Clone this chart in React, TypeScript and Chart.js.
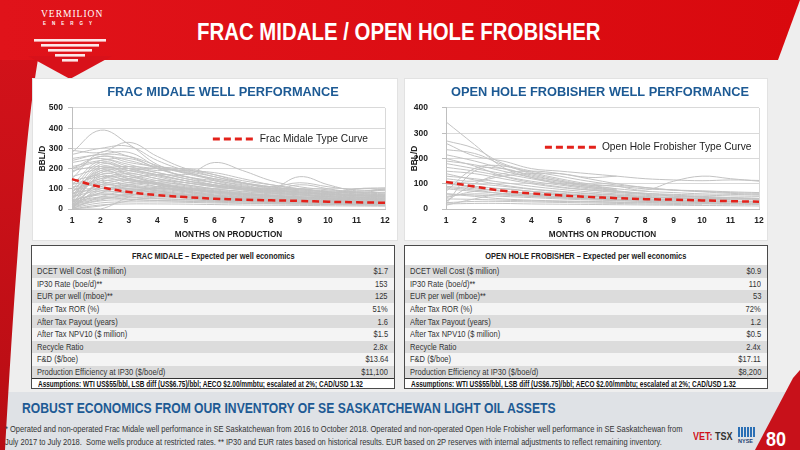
import { useEffect, useRef } from 'react'
import type { ReactNode } from 'react'
import { Chart, registerables } from 'chart.js'

Chart.register(...registerables)

// no Arial Narrow in the sandbox: Liberation Sans, squeezed where the slide is condensed
const SANS = '"Liberation Sans", Arial, sans-serif'

const MONTHS = ['1', '2', '3', '4', '5', '6', '7', '8', '9', '10', '11', '12']

// type curves (bbl/d by month on production)
const MIDALE_TYPE_CURVE = [148, 109, 84, 69, 59, 51, 46, 43, 40, 36, 33, 31]
const FROBISHER_TYPE_CURVE = [107, 89, 72, 62, 54, 48, 43, 39, 37, 34, 31, 29]

// individual well traces, estimated by eye - null = no production data yet
const MIDALE_WELLS: (number | null)[][] = [
  [280, 390, 320, 220, 180, 150, 130, 110, 95, 85, 80, 75],
  [290, 280, 330, 260, 200, 170, 140, 120, 100, 90, 85, 80],
  [270, 300, 310, 240, 190, 160, 130, 110, 95, 85, 80, 95],
  [250, 270, 280, 210, 170, 230, 190, 140, 110, 95, 85, 80],
  [200, 260, 240, 200, 160, 140, 120, 100, 160, 120, 90, 100],
  [230, 250, 220, 190, 200, 170, 130, 100, 85, 75, 70, 65],
  [150, 280, 260, 200, 160, 130, 110, 95, 80, 70, 65, 60],
  [120, 240, 210, 180, 150, 130, 100, 90, 120, 100, 80, 70],
  [100, 230, 200, 170, 140, 120, 100, 85, 75, 65, 60, 55],
  [80, 220, 190, 160, 130, 110, 95, 80, 70, 60, 55, 50],
  [60, 200, 180, 150, 120, 100, 85, 75, 65, 60, 55, 50],
  [40, 190, 170, 140, 115, 95, 80, 70, 60, 55, 50, 45],
  [20, 180, 160, 130, 110, 90, 75, 65, 58, 52, 48, 44],
  [10, 170, 150, 125, 105, 85, 70, 60, 55, 50, 45, 40],
  [30, 160, 140, 120, 100, 80, 68, 60, 52, 48, 44, 40],
  [50, 150, 130, 110, 95, 80, 65, 55, 50, 45, 42, 38],
  [70, 140, 120, 105, 90, 75, 62, 54, 48, 44, 40, 36],
  [90, 130, 115, 100, 85, 70, 60, 52, 46, 42, 38, 35],
  [110, 120, 110, 95, 80, 68, 58, 50, 45, 40, 37, 34],
  [130, 110, 100, 90, 75, 65, 55, 48, 43, 39, 36, 33],
  [5, 100, 95, 85, 72, 62, 52, 46, 41, 37, 34, 31],
  [15, 90, 88, 80, 68, 58, 50, 44, 40, 36, 33, 30],
  [25, 80, 80, 75, 65, 55, 48, 42, 38, 34, 31, 28],
  [45, 70, 72, 70, 60, 52, 45, 40, 36, 32, 30, 27],
  [35, 60, 65, 60, 55, 48, 42, 38, 34, 30, 28, 25],
  [20, 50, 55, 50, 48, 44, 40, 35, 32, 28, 26, 24],
  [10, 40, 45, 42, 40, 38, 35, 32, 30, 27, 25, 22],
  [5, 30, 35, 35, 33, 30, 28, 26, 24, 22, 20, 18],
  [0, 20, 25, 25, 24, 22, 20, 19, 18, 16, 15, 14],
  [160, 200, 210, 200, 190, 180, 150, 120, 100, 85, 75, 70],
  [180, 260, 230, 210, 195, 160, 130, 110, 130, 110, 95, 90],
  [210, 240, 250, 205, 180, 150, 125, 105, 90, 80, 100, 105],
  [140, 170, 190, 200, 185, 140, 110, 95, 85, 75, 70, 65],
  [60, 120, 150, 170, 160, 130, 105, 90, 80, 70, 65, 60],
  [30, 110, 130, 140, 130, 110, 95, 85, 100, 80, 60, 50],
  [80, 100, 120, 130, 120, 100, 88, 78, 70, 62, 56, 50],
  [0, 60, 90, 100, 95, 85, 75, 68, 60, 55, 50, 45],
  [100, 180, 200, 180, 150, 120, 100, 85, 75, 65, 100, 95],
  [190, 210, 190, 170, 140, 115, 95, 80, 70, 62, 58, 55],
  [240, 270, 260, 215, 175, 145, 115, 100, 90, 80, 72, 68],
  [50, 210, 170, 130, 100, null, null, null, null, null, null, null],
  [0, 140, 160, 120, 90, 70, null, null, null, null, null, null],
  [20, 120, 100, 80, 65, 55, 48, 42, null, null, null, null],
  [10, 80, 110, 90, 70, 60, 50, 45, 40, 35, null, null],
  [60, 90, 75, 65, 58, 50, 44, 38, 34, 30, 28, 25],
  [40, 75, 60, 52, 46, 40, 36, 32, 28, 26, 24, 22],
  [25, 55, 48, 42, 38, 34, 30, 27, 25, 23, 21, 19],
  [15, 45, 70, 65, 55, 45, 40, 36, 33, 30, 27, 25],
  [0, 15, 40, 60, 58, 50, 45, 40, 35, 32, 30, 28],
  [5, 130, 140, 110, 85, 65, 55, 48, 43, 39, 36, 33],
  [70, 190, 150, 120, 100, 85, 72, 62, 55, 50, 46, 42],
  [120, 160, 145, 125, 105, 90, 78, 68, 60, 54, 50, 46],
  [90, 150, 175, 150, 130, 115, 100, 90, 80, 72, 66, 60],
  [200, 230, 200, 165, 140, 120, 105, 92, 82, 74, 68, 62],
  [0, 0, 60, 110, 100, 85, 75, 65, 58, 52, 48, 44],
]

const FROBISHER_WELLS: (number | null)[][] = [
  [345, 255, 165, 125, 100, 85, 72, 62, 55, 50, 45, 42],
  [270, 240, 180, 150, 130, 110, 95, 85, 75, 68, 62, 58],
  [260, 210, 190, 160, 150, 140, 130, 120, 115, 112, 115, 113],
  [235, 220, 175, 145, 120, 100, 90, 80, 75, 72, 68, 65],
  [215, 190, 160, 135, 110, 95, 90, 75, 110, 130, 120, 110],
  [190, 175, 150, 125, 105, 90, 80, 70, 65, 60, 58, 55],
  [180, 160, 140, 120, 100, 85, 75, null, null, null, null, null],
  [165, 150, 130, 110, 95, 80, 70, 62, 58, 55, 52, 50],
  [150, 140, 120, 100, 85, 75, 65, 58, 52, 48, 45, 42],
  [130, 120, 105, 90, 78, 68, 60, 54, 50, 46, 43, 40],
  [110, 100, 90, 78, 68, 60, 54, 48, 44, 40, 37, 35],
  [100, 90, 80, 70, 62, 55, 50, 45, 42, 38, 35, null],
  [90, 80, 70, 62, 56, 50, 45, 40, 37, 34, 31, 29],
  [80, 70, 62, 55, 50, 45, 40, 36, 33, 30, 28, 26],
  [60, 55, 50, 45, 40, 36, 33, 30, 28, 26, 24, 22],
  [40, 38, 35, 32, 30, 28, 26, 24, 22, 20, 19, 18],
  [20, 22, 22, 20, 19, 18, 17, 16, 15, 14, 13, 12],
  [20, 150, 160, 130, 110, 90, 75, null, null, null, null, null],
  [30, 100, 140, 150, 140, 120, 100, 85, 75, 70, 65, 62],
  [70, 160, 170, 140, 115, 95, 80, null, null, null, null, null],
  [120, 110, 130, 140, 140, 125, 130, null, null, null, null, null],
  [50, 60, 55, 50, 45, 40, 35, 30, 28, 25, 22, 20],
  [25, 30, 30, 28, 26, 24, 22, 20, 18, 16, null, null],
  [100, 85, 70, 60, 55, 50, 48, 46, 44, 42, 40, 38],
  [140, 115, 95, 80, 70, 62, 56, 50, 45, 42, 40, null],
  [200, 170, 130, 105, 88, 76, 68, 60, null, null, null, null],
  [85, 75, 60, 50, 44, 40, 38, null, null, null, null, null],
  [60, 50, 40, 35, 32, 30, 28, 26, 24, 22, 20, null],
  [45, 70, 80, 70, 60, 52, 46, 40, 36, 32, 30, 28],
  [15, 40, 60, 55, 48, 42, 38, 34, 30, 28, null, null],
]

const ECONOMICS_LABELS = [
  'DCET Well Cost ($ million)',
  'IP30 Rate (boe/d)**',
  'EUR per well (mboe)**',
  'After Tax ROR (%)',
  'After Tax Payout (years)',
  'After Tax NPV10 ($ million)',
  'Recycle Ratio',
  'F&D ($/boe)',
  'Production Efficiency at IP30 ($/boe/d)',
]
const MIDALE_ECONOMICS = ['$1.7', '153', '125', '51%', '1.6', '$1.5', '2.8x', '$13.64', '$11,100']
const FROBISHER_ECONOMICS = ['$0.9', '110', '53', '72%', '1.2', '$0.5', '2.4x', '$17.11', '$8,200']
const ASSUMPTIONS = 'Assumptions: WTI US$55/bbl, LSB diff (US$6.75)/bbl; AECO $2.00/mmbtu; escalated at 2%; CAD/USD 1.32'

const GRID = '#d9d9d9'
const AXIS = '#bfbfbf'

// horizontally squeezed text, stands in for the slide's narrow font
function Narrow({ s, origin = 'left', children }: { s: number; origin?: string; children: ReactNode }) {
  return (
    <span style={{ display: 'inline-block', transform: `scaleX(${s})`, transformOrigin: origin, whiteSpace: 'nowrap' }}>
      {children}
    </span>
  )
}

// draws the single "type curve" legend entry inside the plot area
const typeCurveLegend = {
  id: 'typeCurveLegend',
  afterDatasetsDraw(chart: any, _args: any, opts: any) {
    const { ctx, chartArea: a } = chart
    const ds = chart.data.datasets[0]
    const x = a.left + a.width * opts.x
    const y = a.top + a.height * opts.y
    ctx.save()
    ctx.strokeStyle = ds.borderColor
    ctx.lineWidth = 3
    ctx.setLineDash([7, 4])
    ctx.beginPath()
    ctx.moveTo(x, y)
    ctx.lineTo(x + opts.len, y)
    ctx.stroke()
    ctx.setLineDash([])
    ctx.fillStyle = '#222'
    ctx.font = `10.2px ${SANS}`
    ctx.textBaseline = 'middle'
    ctx.fillText(ds.label, x + opts.len + 5, y)
    ctx.restore()
  },
}

type WellChartProps = {
  title: string
  wells: (number | null)[][]
  typeCurve: number[]
  typeLabel: string
  yMax: number
  left: number
  width: number
  yWidth: number
  rightWidth: number
  tickPad: number
  legend: { x: number; y: number; len: number }
}

function WellChart(p: WellChartProps) {
  const canvasRef = useRef<HTMLCanvasElement>(null)

  useEffect(() => {
    if (!canvasRef.current) return
    const tickFont = { family: SANS, size: 8.5, weight: 'bold' as const }
    const chart = new Chart(canvasRef.current, {
      type: 'line',
      data: {
        labels: MONTHS,
        datasets: [
          {
            label: p.typeLabel,
            data: p.typeCurve,
            borderColor: '#e3221b',
            borderWidth: 2.5,
            borderDash: [7, 4],
            pointRadius: 0,
            tension: 0.4,
          },
          ...p.wells.map((w, i) => ({
            label: `Well ${i + 1}`,
            data: w,
            borderColor: '#c3c3c3',
            borderWidth: 1,
            pointRadius: 0,
            tension: 0.4,
          })),
        ],
      },
      options: {
        animation: false,
        responsive: true,
        maintainAspectRatio: false,
        plugins: {
          legend: { display: false },
          tooltip: { enabled: false },
          title: {
            display: true,
            text: p.title,
            color: '#1d5a94',
            font: { family: SANS, size: 12.8, weight: 'bold' },
            padding: { top: 2.5, bottom: 8.1 },
          },
          // @ts-ignore custom plugin options
          typeCurveLegend: p.legend,
        },
        scales: {
          x: {
            offset: false,
            grid: { color: (c: any) => (c.index === 11 ? GRID : 'transparent'), drawTicks: false },
            border: { color: AXIS },
            ticks: { color: '#222', font: tickFont, padding: 7, maxRotation: 0 },
            title: {
              display: true,
              text: 'MONTHS ON PRODUCTION',
              color: '#222',
              font: { family: SANS, size: 8.2, weight: 'bold' },
              padding: { top: 0, bottom: 0 },
            },
            afterFit: (s: any) => { s.height = 31 },
          },
          y: {
            min: 0,
            max: p.yMax,
            ticks: { stepSize: 100, color: '#222', font: tickFont, padding: p.tickPad },
            grid: { color: GRID, tickLength: 4, tickColor: AXIS },
            border: { color: AXIS },
            title: {
              display: true,
              text: 'BBL/D',
              color: '#222',
              font: { family: SANS, size: 8.3, weight: 'bold' },
              padding: { top: 6, bottom: 0 },
            },
            afterFit: (s: any) => { s.width = p.yWidth },
          },
          // empty spacer on the right so the title centres like the slide
          spacer: {
            type: 'linear',
            position: 'right',
            grid: { display: false },
            border: { display: false },
            ticks: { display: false },
            afterFit: (s: any) => { s.width = p.rightWidth },
          },
        },
      },
      plugins: [typeCurveLegend],
    })
    return () => chart.destroy()
  }, [])

  return (
    <div style={{ position: 'absolute', left: p.left, top: 82, width: p.width, height: 158 }}>
      <canvas ref={canvasRef} />
    </div>
  )
}

function EconomicsTable({ left, title, values }: { left: number; title: string; values: string[] }) {
  return (
    <div
      style={{
        position: 'absolute', left, top: 245, width: 364, height: 144, boxSizing: 'border-box',
        border: '1px solid #4a4a4a', background: '#fff', fontFamily: SANS, color: '#333',
      }}
    >
      <div style={{ height: 19, lineHeight: '19px', textAlign: 'center', fontWeight: 'bold', fontSize: 9.5, color: '#222' }}>
        <Narrow s={0.78} origin="center">{title}</Narrow>
      </div>
      {ECONOMICS_LABELS.map((label, i) => (
        <div
          key={label}
          style={{
            height: 12.6, display: 'flex', justifyContent: 'space-between', alignItems: 'center',
            padding: '0 6px 0 5px', background: i % 2 === 0 ? '#dcdcdc' : '#f4f4f4', fontSize: 9.3,
          }}
        >
          <Narrow s={0.81}>{label}</Narrow>
          <Narrow s={0.81} origin="right">{values[i]}</Narrow>
        </div>
      ))}
      <div
        style={{
          borderTop: '1px solid #333', height: 10, lineHeight: '10px', paddingLeft: 6,
          fontWeight: 'bold', fontSize: 8.3, color: '#111', overflow: 'hidden',
        }}
      >
        <Narrow s={0.78}>{ASSUMPTIONS}</Narrow>
      </div>
    </div>
  )
}

function Decorations() {
  return (
    <svg width={800} height={450} style={{ position: 'absolute', left: 0, top: 0 }}>
      <defs>
        <linearGradient id="band" x1="0" y1="0" x2="1" y2="0">
          <stop offset="0" stopColor="#e0131a" />
          <stop offset="1" stopColor="#d9090e" />
        </linearGradient>
        <linearGradient id="strip" x1="0" y1="0" x2="0" y2="1">
          <stop offset="0" stopColor="#d3121a" />
          <stop offset="1" stopColor="#b80d14" />
        </linearGradient>
      </defs>
      <rect x={0} y={392} width={800} height={58} fill="#dfe2e6" />
      <path d="M0,40 L42,40 C30,90 18,220 5,450 L0,450 Z" fill="url(#strip)" />
      <path d="M0,0 H800 L778,60 H0 Z" fill="url(#band)" />
      <path d="M28,56 L70,79 L112,56 Z" fill="#d8111a" />
      {[0, 1, 2, 3, 4].map(i => (
        <rect key={i} x={34 + i * 7} y={39 + i * 5} width={72 - i * 14} height={2.6} fill="#fff" opacity={0.9} />
      ))}
      <path d="M800,370 L800,450 L755,450 L793,378 Z" fill="#c8111a" />
    </svg>
  )
}

export default function App() {
  return (
    <div
      style={{
        position: 'fixed', left: 0, top: 0, width: 800, height: 450, overflow: 'hidden',
        background: '#eeeeee', fontFamily: SANS,
      }}
    >
      <Decorations />
      <div style={{ position: 'absolute', left: 41, top: 9, color: '#fff', fontSize: 9.5, letterSpacing: 1, fontFamily: '"Liberation Serif", serif' }}>
        VERMILION
      </div>
      <div style={{ position: 'absolute', left: 43, top: 21, color: '#fff', fontSize: 4.5, letterSpacing: 6, fontWeight: 'bold' }}>
        ENERGY
      </div>
      <div style={{ position: 'absolute', left: 197, top: 17, color: '#fff', fontSize: 24, fontWeight: 'bold', lineHeight: '30px' }}>
        <Narrow s={0.85}>FRAC MIDALE / OPEN HOLE FROBISHER</Narrow>
      </div>

      <div style={{ position: 'absolute', left: 32, top: 78, width: 366, height: 163, background: '#fff', border: '1px solid #e2e2e2', boxSizing: 'border-box' }} />
      <div style={{ position: 'absolute', left: 404, top: 78, width: 364, height: 163, background: '#fff', border: '1px solid #e2e2e2', boxSizing: 'border-box' }} />

      <WellChart
        title="FRAC MIDALE WELL PERFORMANCE"
        wells={MIDALE_WELLS}
        typeCurve={MIDALE_TYPE_CURVE}
        typeLabel="Frac Midale Type Curve"
        yMax={500}
        left={32}
        width={382}
        yWidth={40}
        rightWidth={29}
        tickPad={5}
        legend={{ x: 0.45, y: 0.307, len: 42 }}
      />
      <WellChart
        title="OPEN HOLE FROBISHER WELL PERFORMANCE"
        wells={FROBISHER_WELLS}
        typeCurve={FROBISHER_TYPE_CURVE}
        typeLabel="Open Hole Frobisher Type Curve"
        yMax={400}
        left={404}
        width={392}
        yWidth={42}
        rightWidth={37}
        tickPad={14}
        legend={{ x: 0.316, y: 0.39, len: 52 }}
      />

      <EconomicsTable left={31} title="FRAC MIDALE – Expected per well economics" values={MIDALE_ECONOMICS} />
      <EconomicsTable left={404} title="OPEN HOLE FROBISHER – Expected per well economics" values={FROBISHER_ECONOMICS} />

      <div style={{ position: 'absolute', left: 22, top: 399, color: '#1d5a94', fontSize: 15, fontWeight: 'bold' }}>
        <Narrow s={0.81}>ROBUST ECONOMICS FROM OUR INVENTORY OF SE SASKATCHEWAN LIGHT OIL ASSETS</Narrow>
      </div>
      <div style={{ position: 'absolute', left: 5, top: 423, color: '#333', fontSize: 8.7, lineHeight: '13px' }}>
        <Narrow s={0.865}>
          * Operated and non-operated Frac Midale well performance in SE Saskatchewan from 2016 to October 2018. Operated and non-operated Open Hole Frobisher well performance in SE Saskatchewan from
        </Narrow>
        <br />
        <Narrow s={0.865}>
          July 2017 to July 2018.&nbsp; Some wells produce at restricted rates. ** IP30 and EUR rates based on historical results. EUR based on 2P reserves with internal adjustments to reflect remaining inventory.
        </Narrow>
      </div>

      <div style={{ position: 'absolute', left: 693, top: 431, fontSize: 10, fontWeight: 'bold' }}>
        <Narrow s={0.9}>
          <span style={{ color: '#d0111a' }}>VET: </span>
          <span style={{ color: '#333' }}>TSX</span>
        </Narrow>
      </div>
      <div style={{ position: 'absolute', left: 738, top: 427, width: 17, height: 10, background: 'repeating-linear-gradient(90deg, #2a6fb5 0 2px, transparent 2px 3px)' }} />
      <div style={{ position: 'absolute', left: 738, top: 438, fontSize: 5.5, fontWeight: 'bold', color: '#1d3f73' }}>NYSE</div>
      <div style={{ position: 'absolute', left: 766, top: 428, color: '#fff', fontSize: 20, fontWeight: 'bold' }}>
        <Narrow s={0.9}>80</Narrow>
      </div>
    </div>
  )
}
